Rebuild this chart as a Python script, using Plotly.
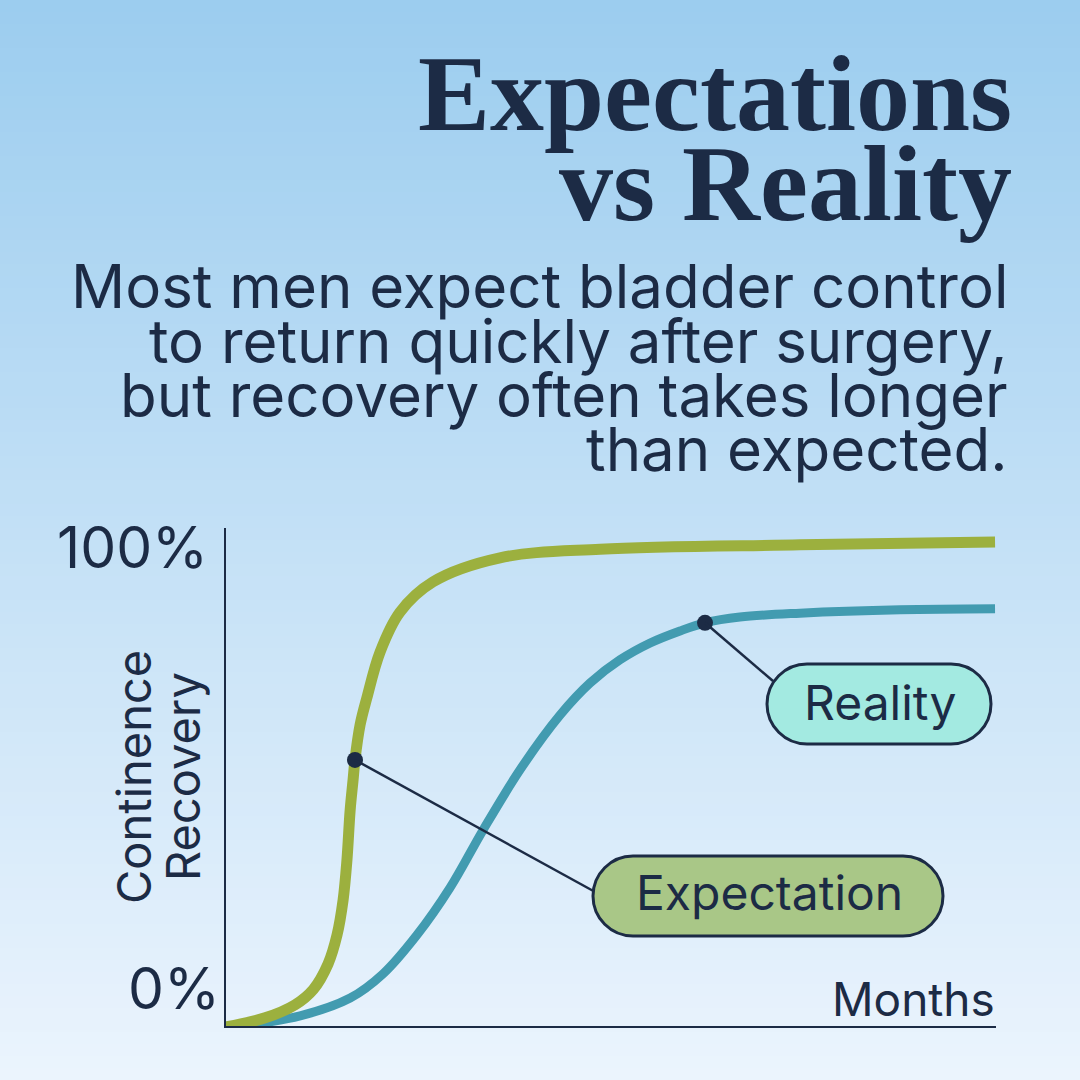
import plotly.graph_objects as go

# curve readings (months, % recovered)
exp_months = [0.0, 1.22, 2.15, 2.72, 3.18, 3.46, 3.65, 3.77, 3.87, 3.96, 4.02, 4.18, 4.39, 4.80, 5.42, 6.45, 8.54, 11.66, 17.89, 23.97]
exp_pct = [-0.2, 1.7, 4.4, 7.6, 12.9, 18.9, 26.2, 34.5, 44.9, 51.1, 55.3, 62.6, 68.2, 77.7, 86.0, 92.3, 97.3, 99.1, 100.0, 100.6]

real_months = [0.0, 2.31, 3.87, 4.89, 5.95, 6.98, 8.01, 9.16, 10.41, 11.35, 12.28, 13.22, 14.15, 14.93, 16.02, 17.89, 21.01, 23.97]
real_pct = [-0.4, 2.1, 5.8, 10.8, 18.9, 28.7, 40.7, 53.2, 64.6, 71.3, 76.1, 79.6, 82.1, 83.8, 85.0, 85.8, 86.5, 86.7]

# callout points on each curve
exp_dot = (4.02, 55.3)
real_dot = (14.93, 83.8)

title_lines = ["Expectations", "vs Reality"]
subtitle_lines = ["Most men expect bladder control",
                  "to return quickly after surgery,",
                  "but recovery often takes longer",
                  "than expected."]

NAVY = "#1c2b45"
OLIVE = "#9cb03e"
TEAL = "#429bb0"
SANS = "Inter, Roboto, sans-serif"
SERIF = "Liberation Serif, DejaVu Serif, serif"

W = 1080
X_MAX, Y_MAX = 24, 103.5
PLOT_L, PLOT_R, PLOT_T, PLOT_B = 226, 996, 528, 1026


def px(x):
    return x / W


def py(y):
    return 1 - y / W


def to_data(x, y):
    # pixel position -> data coordinates
    return ((x - PLOT_L) / (PLOT_R - PLOT_L) * X_MAX,
            (PLOT_B - y) / (PLOT_B - PLOT_T) * Y_MAX)


def pill_path(x0, y0, x1, y1):
    r = (y1 - y0) / 2
    k = 0.5523 * r
    pts = [
        ("M", [(x0 + r, y0)]),
        ("L", [(x1 - r, y0)]),
        ("C", [(x1 - r + k, y0), (x1, y0 + r - k), (x1, y0 + r)]),
        ("C", [(x1, y0 + r + k), (x1 - r + k, y1), (x1 - r, y1)]),
        ("L", [(x0 + r, y1)]),
        ("C", [(x0 + r - k, y1), (x0, y1 - r + k), (x0, y1 - r)]),
        ("C", [(x0, y1 - r - k), (x0 + r - k, y0), (x0 + r, y0)]),
    ]
    s = ""
    for cmd, ps in pts:
        s += cmd + " ".join(f"{px(a):.5f},{py(b):.5f}" for a, b in ps) + " "
    return s + "Z"


fig = go.Figure()

fig.add_trace(go.Scatter(x=real_months, y=real_pct, mode="lines",
                         line=dict(color=TEAL, width=9, shape="spline", smoothing=1),
                         cliponaxis=False, hoverinfo="skip"))
fig.add_trace(go.Scatter(x=exp_months, y=exp_pct, mode="lines",
                         line=dict(color=OLIVE, width=11, shape="spline", smoothing=1),
                         cliponaxis=False, hoverinfo="skip"))
fig.add_trace(go.Scatter(x=[exp_dot[0], real_dot[0]], y=[exp_dot[1], real_dot[1]],
                         mode="markers", marker=dict(color=NAVY, size=16),
                         cliponaxis=False, hoverinfo="skip"))

shapes = []
# background gradient
top, bot = (0x9c, 0xcd, 0xef), (0xeb, 0xf4, 0xfd)
n = 90
for i in range(n):
    t = i / (n - 1)
    c = tuple(round(top[j] + (bot[j] - top[j]) * t) for j in range(3))
    shapes.append(dict(type="rect", xref="paper", yref="paper", layer="below",
                       x0=0, x1=1, y0=1 - (i + 1) / n - 0.002, y1=1 - i / n,
                       fillcolor="rgb(%d,%d,%d)" % c, line=dict(width=0)))

# leader lines
ex, ey = to_data(597, 893)
rx, ry = to_data(773, 681)
for (x0, y0), (x1, y1) in [(exp_dot, (ex, ey)), (real_dot, (rx, ry))]:
    shapes.append(dict(type="line", xref="x", yref="y", x0=x0, y0=y0, x1=x1, y1=y1,
                       line=dict(color=NAVY, width=2.5), layer="above"))

# label pills
shapes.append(dict(type="path", xref="paper", yref="paper", path=pill_path(593, 856, 943, 936),
                   fillcolor="#a9c787", line=dict(color=NAVY, width=3), layer="above"))
shapes.append(dict(type="path", xref="paper", yref="paper", path=pill_path(767, 664, 991, 744),
                   fillcolor="#a3eae1", line=dict(color=NAVY, width=3), layer="above"))

annotations = []


def text(s, x, y, size, family=SANS, xanchor="right", angle=0):
    annotations.append(dict(text=s, x=px(x), y=py(y), xref="paper", yref="paper",
                            xanchor=xanchor, yanchor="middle", showarrow=False,
                            textangle=angle, font=dict(family=family, size=size, color=NAVY)))


text("<b>" + title_lines[0] + "</b>", 1014, 93, 108, family=SERIF)
text("<b>" + title_lines[1] + "</b>", 1014, 183, 108, family=SERIF)
for i, line in enumerate(subtitle_lines):
    text(line, 1010, 286 + i * 54.5, 60)

text("100%", 210, 547, 57)
text("0%", 222, 988, 57)
text("Months", 997, 999, 46)
text("Continence", 133, 777, 47, xanchor="center", angle=-90)
text("Recovery", 182, 777, 47, xanchor="center", angle=-90)
text("Expectation", 769, 892, 48, xanchor="center")
text("Reality", 880, 702, 48, xanchor="center")

fig.update_layout(
    width=1080, height=1080,
    margin=dict(l=0, r=0, t=0, b=0),
    paper_bgcolor="#c3e0f6", plot_bgcolor="rgba(0,0,0,0)",
    showlegend=False,
    shapes=shapes, annotations=annotations,
    xaxis=dict(domain=[px(PLOT_L), px(PLOT_R)], range=[0, X_MAX], showgrid=False,
               zeroline=False, showticklabels=False, ticks="",
               showline=True, linecolor=NAVY, linewidth=2),
    yaxis=dict(domain=[py(PLOT_B), py(PLOT_T)], range=[0, Y_MAX], showgrid=False,
               zeroline=False, showticklabels=False, ticks="",
               showline=True, linecolor=NAVY, linewidth=2),
)

fig.write_html("out.html", config={"displayModeBar": False},
               post_script="document.body.style.margin='0';document.body.style.overflow='hidden';")
